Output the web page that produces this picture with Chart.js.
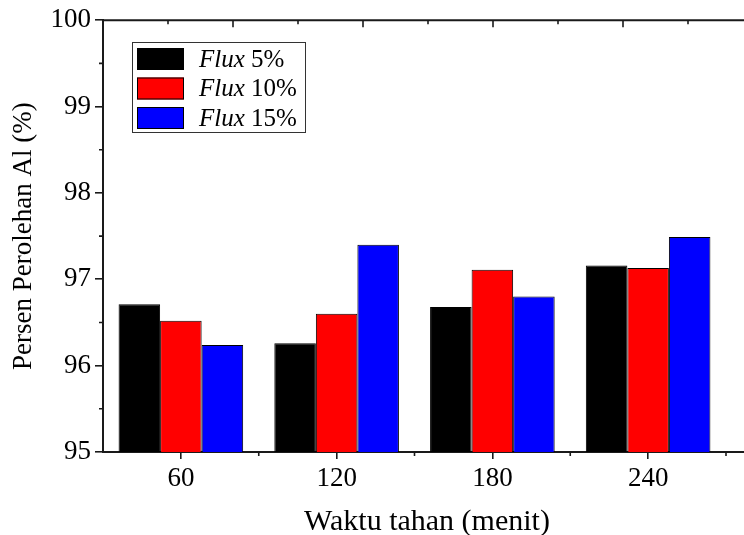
<!DOCTYPE html>
<html>
<head>
<meta charset="utf-8">
<script src="https://cdn.jsdelivr.net/npm/chart.js@4"></script>
<style>
  body { margin: 0; background: #fff; }
  #wrap { width: 744px; height: 535px; }
</style>
</head>
<body>
<div id="wrap"><canvas id="fluxChart" width="744" height="535"></canvas></div>
<script>
// data
const categories = ['60', '120', '180', '240'];
const flux5 = [96.71, 96.26, 96.68, 97.16];
const flux10 = [96.52, 96.60, 97.11, 97.13];
const flux15 = [96.24, 97.40, 96.80, 97.49];
const seriesLabels = ['5%', '10%', '15%'];
const seriesColors = ['#000000', '#ff0000', '#0000ff'];
const yMin = 95;
const yMax = 100;
const xTitle = 'Waktu tahan (menit)';

const serif = "'Liberation Serif', 'Times New Roman', serif";
const axisColor = '#1a1a1a';

// minor ticks, top axis line, x title and the legend box (italic "Flux" + plain percent)
const extrasPlugin = {
  id: 'extras',
  afterDraw(chart) {
    const ctx = chart.ctx;
    const area = chart.chartArea;
    const x = chart.scales.x;
    const y = chart.scales.y;
    const W = chart.width;

    ctx.save();
    ctx.strokeStyle = axisColor;
    ctx.lineWidth = 2;

    // top line and right extension of bottom line
    ctx.beginPath();
    ctx.moveTo(area.left, area.top);
    ctx.lineTo(W, area.top);
    ctx.moveTo(area.right, area.bottom);
    ctx.lineTo(W, area.bottom);
    ctx.stroke();

    ctx.lineWidth = 1.6;
    ctx.beginPath();
    // y minor ticks
    for (let v = yMin + 0.5; v < yMax; v += 1) {
      const py = y.getPixelForValue(v);
      ctx.moveTo(area.left, py);
      ctx.lineTo(area.left - 4, py);
    }
    // x minor ticks between categories and at right end
    for (let i = 0; i < categories.length; i++) {
      const px = (i < categories.length - 1)
        ? (x.getPixelForTick(i) + x.getPixelForTick(i + 1)) / 2
        : area.right;
      ctx.moveTo(px, area.bottom);
      ctx.lineTo(px, area.bottom + 4);
    }
    // top axis ticks (inward)
    for (let k = 1; area.left + k * 65 < W; k++) {
      const px = area.left + k * 65;
      ctx.moveTo(px, area.top);
      ctx.lineTo(px, area.top + (k % 2 === 0 ? 7 : 4));
    }
    ctx.stroke();

    // x axis title
    ctx.fillStyle = '#000';
    ctx.font = '30px ' + serif;
    ctx.textAlign = 'center';
    ctx.textBaseline = 'alphabetic';
    ctx.fillText(xTitle, 427, 530);

    // legend
    const lx = 132, ly = 42;
    ctx.lineWidth = 1;
    ctx.strokeStyle = '#333';
    ctx.strokeRect(lx + 0.5, ly + 0.5, 173, 90);
    seriesLabels.forEach((lab, i) => {
      const cy = ly + 17 + i * 29.5;
      ctx.fillStyle = seriesColors[i];
      ctx.fillRect(137, cy - 11, 47, 22);
      ctx.strokeStyle = '#000';
      ctx.strokeRect(137.5, cy - 10.5, 46, 21);
      ctx.fillStyle = '#000';
      ctx.textBaseline = 'middle';
      ctx.textAlign = 'left';
      ctx.font = 'italic 25px ' + serif;
      ctx.fillText('Flux', 199, cy + 1);
      const w = ctx.measureText('Flux').width;
      ctx.font = '25px ' + serif;
      ctx.fillText(' ' + lab, 199 + w, cy + 1);
    });
    ctx.restore();
  }
};

const ctx = document.getElementById('fluxChart').getContext('2d');
new Chart(ctx, {
  type: 'bar',
  data: {
    labels: categories,
    datasets: [
      { label: 'Flux 5%', data: flux5, backgroundColor: seriesColors[0], borderColor: '#000', borderWidth: 1 },
      { label: 'Flux 10%', data: flux10, backgroundColor: seriesColors[1], borderColor: '#000', borderWidth: 1 },
      { label: 'Flux 15%', data: flux15, backgroundColor: seriesColors[2], borderColor: '#000', borderWidth: 1 }
    ]
  },
  options: {
    responsive: false,
    animation: false,
    categoryPercentage: 0.8,
    barPercentage: 1.0,
    layout: { padding: { top: 19, right: 18, left: 0, bottom: 0 } },
    plugins: {
      legend: { display: false },
      tooltip: { enabled: false }
    },
    scales: {
      x: {
        afterFit: scale => { scale.height = 83; },
        border: { display: true, color: axisColor, width: 2 },
        grid: { display: true, offset: false, drawOnChartArea: false, drawTicks: true, tickLength: 7, color: axisColor, lineWidth: 1.6 },
        ticks: { color: '#000', font: { family: serif, size: 27 }, padding: 4, maxRotation: 0 }
      },
      y: {
        min: yMin,
        max: yMax,
        afterFit: scale => { scale.width = 103; },
        border: { display: true, color: axisColor, width: 2 },
        grid: { display: true, drawOnChartArea: false, drawTicks: true, tickLength: 8, color: axisColor, lineWidth: 1.6 },
        ticks: { stepSize: 1, color: '#000', font: { family: serif, size: 27 }, padding: 4 },
        title: {
          display: true,
          text: 'Persen Perolehan Al (%)',
          color: '#000',
          font: { family: serif, size: 27, lineHeight: 1 },
          padding: { top: 10, bottom: 0 }
        }
      }
    }
  },
  plugins: [extrasPlugin]
});
</script>
</body>
</html>
